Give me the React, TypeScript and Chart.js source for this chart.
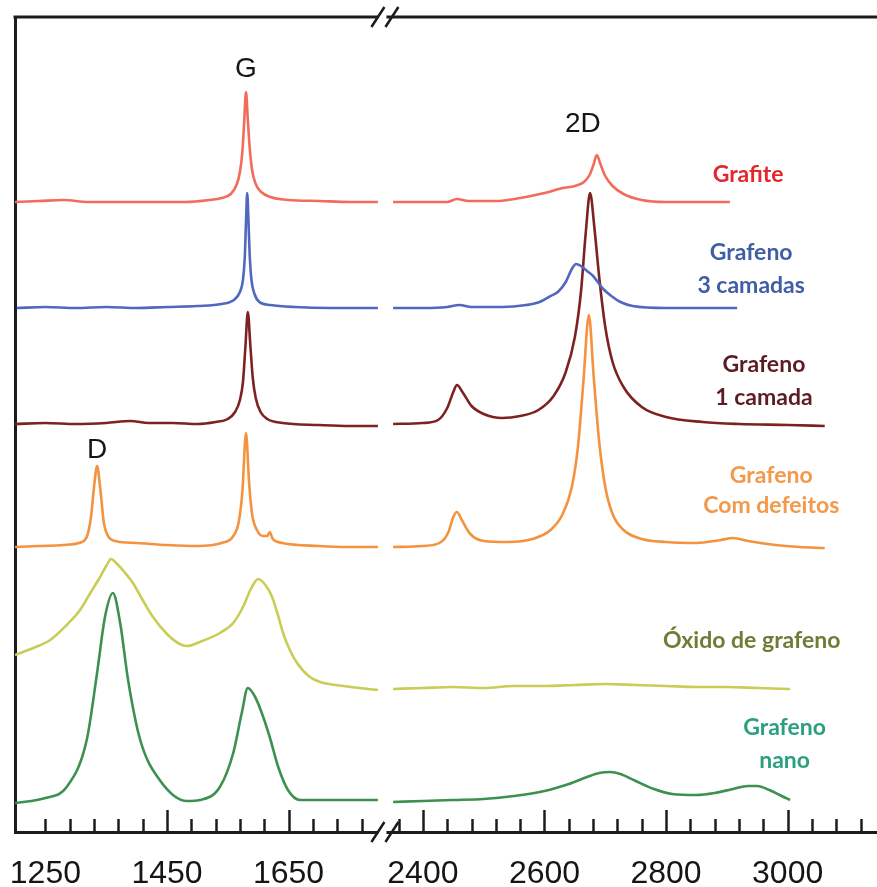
import React, { useEffect, useRef } from "react";
import { Chart, registerables } from "chart.js";

Chart.register(...registerables);

// ---- Data (wavenumber in cm-1, intensity in arbitrary offset units) ----
const grafiteX = [1200, 1240, 1280, 1320, 1360, 1400, 1440, 1480, 1520, 1540, 1555, 1565, 1570, 1574, 1577, 1580, 1583, 1586, 1590, 1596, 1605, 1620, 1650, 1700, 1750, 1797,
  2000,
  2351, 2400, 2440, 2456, 2475, 2520, 2560, 2600, 2630, 2650, 2665, 2675, 2681, 2686, 2692, 2700, 2712, 2730, 2760, 2800, 2850, 2905];
const grafiteY = [630, 631, 632, 630, 630, 630, 630, 630, 632, 634, 638, 648, 660, 680, 710, 740, 712, 685, 662, 648, 640, 635, 632, 631, 630, 630,
  null,
  630, 630, 630, 633, 631, 631, 634, 639, 644, 646, 650, 658, 668, 677, 668, 656, 646, 638, 632, 630, 630, 630];

const tresCamadasX = [1203, 1250, 1300, 1350, 1400, 1450, 1500, 1540, 1560, 1570, 1575, 1578, 1580, 1582, 1584, 1586, 1589, 1594, 1602, 1620, 1660, 1720, 1797,
  2000,
  2351, 2400, 2440, 2460, 2480, 2530, 2570, 2592, 2610, 2622, 2635, 2645, 2652, 2660, 2670, 2680, 2695, 2710, 2725, 2745, 2800, 2860, 2917];
const tresCamadasY = [524, 525, 524, 525, 524, 525, 526, 528, 532, 540, 552, 575, 610, 639, 612, 578, 552, 538, 530, 527, 525, 524, 524,
  null,
  524, 524, 525, 527, 525, 525, 527, 530, 536, 540, 550, 563, 568, 566, 561, 556, 544, 536, 530, 526, 524, 524, 524];

const umaCamadaX = [1200, 1250, 1300, 1350, 1390, 1420, 1460, 1500, 1530, 1550, 1562, 1570, 1575, 1579, 1583, 1587, 1591, 1596, 1604, 1615, 1640, 1700, 1750, 1797,
  2000,
  2351, 2400, 2425, 2440, 2450, 2456, 2465, 2480, 2500, 2530, 2560, 2590, 2615, 2635, 2650, 2660, 2668, 2675, 2682, 2690, 2700, 2712, 2730, 2760, 2800, 2860, 2920, 3000, 3061];
const umaCamadaY = [408, 409, 408, 409, 411, 409, 409, 408, 410, 413, 420, 432, 450, 485, 520, 488, 455, 434, 420, 413, 409, 407, 406, 406,
  null,
  408, 409, 412, 424, 440, 447, 440, 426, 418, 414, 416, 422, 436, 460, 495, 540, 600, 639, 605, 555, 505, 470, 445, 425, 415, 410, 408, 407, 406];

const defeitosX = [1200, 1240, 1280, 1305, 1318, 1325, 1330, 1335, 1340, 1346, 1353, 1365, 1400, 1450, 1500, 1540, 1558, 1568, 1574, 1580, 1585, 1590, 1598, 1608, 1615, 1619, 1624, 1640, 1700, 1750, 1797,
  2000,
  2351, 2400, 2430, 2442, 2450, 2456, 2464, 2478, 2500, 2540, 2580, 2610, 2630, 2645, 2655, 2664, 2673, 2681, 2690, 2700, 2712, 2730, 2760, 2800, 2850, 2890, 2910, 2935, 2980, 3020, 3061];
const defeitosY = [285, 286, 287, 289, 295, 315, 345, 366, 345, 310, 296, 291, 289, 287, 286, 289, 295, 310, 340, 399, 350, 318, 302, 296, 296, 300, 293, 289, 286, 285, 285,
  null,
  285, 286, 290, 300, 315, 320, 312, 298, 291, 290, 293, 302, 318, 345, 385, 450, 517, 455, 390, 345, 318, 302, 293, 290, 289, 292, 294, 291, 287, 285, 284];

const oxidoX = [1200, 1230, 1258, 1285, 1307, 1325, 1340, 1350, 1358, 1368, 1380, 1394, 1410, 1427, 1450, 1471, 1483, 1504, 1537, 1559, 1575, 1588, 1600, 1612, 1623, 1632, 1641, 1652, 1664, 1685, 1702, 1740, 1797,
  2000,
  2351, 2400, 2450, 2500, 2550, 2600, 2650, 2700, 2750, 2800, 2850, 2900, 2950, 3004];
const oxidoY = [177, 184, 192, 207, 222, 240, 255, 266, 273, 268, 260, 249, 232, 215, 198, 188, 186, 190, 199, 209, 225, 243, 253, 247, 235, 218, 199, 182, 169, 155, 150, 146, 142,
  null,
  143, 144, 145, 144, 146, 146, 147, 148, 147, 146, 145, 145, 144, 143];

const nanoX = [1200, 1250, 1285, 1318, 1335, 1348, 1361, 1373, 1386, 1406, 1438, 1483, 1504, 1537, 1559, 1573, 1583, 1595, 1606, 1619, 1633, 1649, 1669, 1720, 1797,
  2000,
  2351, 2400, 2450, 2500, 2550, 2600, 2640, 2670, 2690, 2708, 2725, 2750, 2780, 2810, 2850, 2880, 2910, 2935, 2950, 2970, 2990, 3004];
const nanoY = [29, 34, 45, 92, 159, 215, 239, 209, 152, 92, 52, 31, 32, 45, 79, 119, 144, 135, 119, 95, 65, 42, 32, 32, 32,
  null,
  30, 31, 32, 33, 36, 41, 48, 55, 59, 60, 58, 51, 43, 38, 37, 39, 43, 46, 46, 42, 36, 32];

// ---- Axis ticks ----
const tickLabels = [1250, 1450, 1650, 2400, 2600, 2800, 3000];
const majorTicks = [1450, 1650, 2400, 2600, 2800, 3000];
const minorTicks = [1250, 1290, 1330, 1370, 1410, 1490, 1530, 1570, 1610, 1690, 1730, 1770,
  2360, 2440, 2480, 2520, 2560, 2640, 2680, 2720, 2760, 2840, 2880, 2920, 2960, 3040, 3080, 3120];

// Broken axis: the 1811..2340 region is cut out
const CUT = 529;
const toAxis = (v: number) => (v > 2000 ? v - CUT : v);
const fromAxis = (u: number) => (u > 1830 ? u + CUT : u);
const BREAK_AXIS = 1811;

const peakLabels = [
  { text: "G", x: 1580, y: 755 },
  { text: "2D", x: 2663, y: 700 },
  { text: "D", x: 1335, y: 374 },
];

const seriesLabels = [
  { lines: ["Grafite"], x: 2935, y: [650], color: "#e5262c" },
  { lines: ["Grafeno", "3 camadas"], x: 2940, y: [572, 539], color: "#3f5ea6" },
  { lines: ["Grafeno", "1 camada"], x: 2961, y: [460, 427], color: "#5c1c24" },
  { lines: ["Grafeno", "Com defeitos"], x: 2973, y: [349, 319], color: "#f2994a" },
  { lines: ["Óxido de grafeno"], x: 2941, y: [184], color: "#6e7d36" },
  { lines: ["Grafeno", "nano"], x: 2995, y: [97, 64], color: "#2c9f7e" },
];

const series = [
  { xs: grafiteX, ys: grafiteY, color: "#f26b5b" },
  { xs: tresCamadasX, ys: tresCamadasY, color: "#5068c0" },
  { xs: umaCamadaX, ys: umaCamadaY, color: "#7d2222" },
  { xs: defeitosX, ys: defeitosY, color: "#f5923e" },
  { xs: oxidoX, ys: oxidoY, color: "#c9cd55" },
  { xs: nanoX, ys: nanoY, color: "#3d9150" },
];

const AXIS_FONT = "Arial, 'Liberation Sans', Helvetica, sans-serif";

const decorPlugin = {
  id: "decor",
  afterDraw(chart: any) {
    const ctx = chart.ctx;
    const { left, right, top, bottom } = chart.chartArea;
    const xs = chart.scales.x;
    const ys = chart.scales.y;
    ctx.save();
    ctx.strokeStyle = "#1c1c1c";
    ctx.lineWidth = 3;
    ctx.beginPath();
    ctx.moveTo(left - 1.5, top);
    ctx.lineTo(right, top);
    ctx.stroke();

    ctx.lineWidth = 2.5;
    ctx.lineCap = "butt";
    majorTicks.forEach((v) => {
      const px = Math.round(xs.getPixelForValue(toAxis(v))) + 0.5;
      ctx.beginPath();
      ctx.moveTo(px, bottom);
      ctx.lineTo(px, bottom - 22);
      ctx.stroke();
    });
    minorTicks.forEach((v) => {
      const px = Math.round(xs.getPixelForValue(toAxis(v))) + 0.5;
      ctx.beginPath();
      ctx.moveTo(px, bottom);
      ctx.lineTo(px, bottom - 13);
      ctx.stroke();
    });

    // axis breaks
    const bx = xs.getPixelForValue(BREAK_AXIS);
    [top, bottom].forEach((y) => {
      ctx.fillStyle = "#ffffff";
      ctx.fillRect(bx - 8, y - 3, 8, 6);
      ctx.strokeStyle = "#1c1c1c";
      ctx.lineWidth = 2.5;
      ctx.beginPath();
      ctx.moveTo(bx - 15, y + 10);
      ctx.lineTo(bx - 2, y - 10);
      ctx.moveTo(bx - 1, y + 10);
      ctx.lineTo(bx + 12, y - 10);
      ctx.stroke();
    });

    // peak labels
    ctx.fillStyle = "#151515";
    ctx.font = `28px ${AXIS_FONT}`;
    ctx.textAlign = "center";
    ctx.textBaseline = "alphabetic";
    peakLabels.forEach((p) => {
      ctx.fillText(p.text, xs.getPixelForValue(toAxis(p.x)), ys.getPixelForValue(p.y));
    });

    // series labels
    ctx.font = "bold 23px Lato, 'Open Sans', sans-serif";
    seriesLabels.forEach((s) => {
      ctx.fillStyle = s.color;
      s.lines.forEach((line, i) => {
        ctx.fillText(line, xs.getPixelForValue(toAxis(s.x)), ys.getPixelForValue(s.y[i]));
      });
    });
    ctx.restore();
  },
};

export default function App() {
  const ref = useRef<HTMLCanvasElement | null>(null);
  useEffect(() => {
    document.body.style.margin = "0";
    document.body.style.overflow = "hidden";
    const canvas = ref.current;
    if (!canvas) return;
    const chart = new Chart(canvas, {
      type: "line",
      data: {
        datasets: series.map((s) => ({
          data: s.xs.map((x, i) => ({ x: toAxis(x), y: s.ys[i] })),
          borderColor: s.color,
          borderWidth: 2.6,
          pointRadius: 0,
          fill: false,
          spanGaps: false,
          cubicInterpolationMode: "monotone" as const,
        })),
      },
      options: {
        animation: false,
        responsive: false,
        devicePixelRatio: 1,
        layout: { padding: { left: 15, top: 17, right: 0, bottom: 0 } },
        plugins: { legend: { display: false }, tooltip: { enabled: false } },
        scales: {
          x: {
            type: "linear",
            min: 1200,
            max: 2618,
            grid: { display: false },
            border: { display: true, color: "#1c1c1c", width: 3 },
            afterBuildTicks: (scale: any) => {
              scale.ticks = tickLabels.map((v) => ({ value: toAxis(v) }));
            },
            afterFit: (scale: any) => {
              scale.height = 55;
              scale.paddingLeft = 0;
              scale.paddingRight = 0;
            },
            ticks: {
              autoSkip: false,
              maxRotation: 0,
              minRotation: 0,
              padding: 15,
              color: "#151515",
              font: { family: AXIS_FONT, size: 32 },
              callback: (value: any) => String(Math.round(fromAxis(Number(value)))),
            },
          },
          y: {
            type: "linear",
            min: 0,
            max: 815,
            grid: { display: false },
            border: { display: true, color: "#1c1c1c", width: 3 },
            ticks: { display: false },
            afterFit: (scale: any) => {
              scale.width = 0;
            },
          },
        },
      },
      plugins: [decorPlugin],
    });
    return () => chart.destroy();
  }, []);
  return (
    <div style={{ width: 877, height: 887 }}>
      <canvas ref={ref} width={877} height={887} style={{ display: "block", width: 877, height: 887 }} />
    </div>
  );
}
